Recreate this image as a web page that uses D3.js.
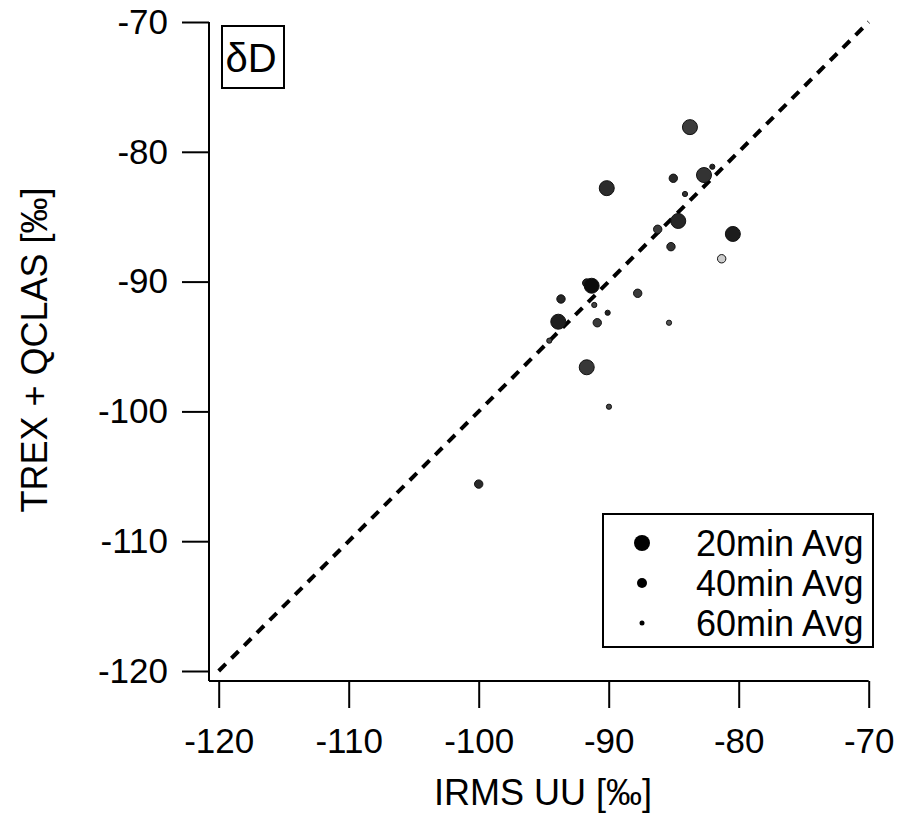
<!DOCTYPE html>
<html>
<head>
<meta charset="utf-8">
<script src="https://d3js.org/d3.v7.min.js"></script>
<style>
  body { margin: 0; background: #fff; }
  text { font-family: "Liberation Sans", Arial, sans-serif; fill: #000; }
</style>
</head>
<body>
<div id="chart"></div>
<script>
var width = 898, height = 815

// 20 minute averages
var avg20X = [-83.75, -90.15, -82.67, -84.65, -80.45, -91.31, -93.88, -91.69]
var avg20Y = [-78.1, -82.8, -81.79, -85.33, -86.33, -90.32, -93.09, -96.6]
var avg20Shade = ["#3c3c3c", "#2c2c2c", "#333333", "#262626", "#1c1c1c", "#0c0c0c", "#1e1e1e", "#383838"]

// 40 minute averages
var avg40X = [-85.03, -86.23, -85.21, -81.31, -87.77, -93.67, -90.88, -91.69, -100.0]
var avg40Y = [-82.04, -85.97, -87.31, -88.24, -90.9, -91.34, -93.17, -90.11, -105.6]
var avg40Shade = ["#2a2a2a", "#3a3a3a", "#333333", "#cccccc", "#3a3a3a", "#262626", "#3a3a3a", "#202020", "#2a2a2a"]

// 60 minute averages
var avg60X = [-82.03, -84.13, -91.11, -90.08, -94.57, -85.36, -89.98]
var avg60Y = [-81.15, -83.25, -91.8, -92.4, -94.55, -93.17, -99.64]
var avg60Shade = ["#222222", "#333333", "#444444", "#222222", "#444444", "#555555", "#444444"]

var xTicks = [-120, -110, -100, -90, -80, -70]
var yTicks = [-120, -110, -100, -90, -80, -70]
var legendLabels = ["20min Avg", "40min Avg", "60min Avg"]
var sizes = [7.5, 4.2, 2.6]
var legendSizes = [8, 5, 2.5]

var xScale = d3.scaleLinear()
    .domain([-120, -70])
    .range([218.7, 868.7])
var yScale = d3.scaleLinear()
    .domain([-120, -70])
    .range([671, 22])

var svg = d3.select("#chart")
    .append("svg")
    .attr("width", width)
    .attr("height", height)
    .attr("display", "block")

// plain hyphen minus, like the original
var fmt = function(d) { return String(d) }

// axes
var xAxis = d3.axisBottom(xScale)
    .tickValues(xTicks)
    .tickFormat(fmt)
    .tickSize(27)
    .tickSizeOuter(0)
var yAxis = d3.axisLeft(yScale)
    .tickValues(yTicks)
    .tickFormat(fmt)
    .tickSize(27)
    .tickPadding(14)
    .tickSizeOuter(0)

var gx = svg.append("g")
    .attr("transform", "translate(0,681)")
    .call(xAxis)
gx.select(".domain").attr("d", "M" + 209 + ",0H" + 868.7)
gx.selectAll(".tick text")
    .attr("y", 72)
    .attr("dy", 0)

var gy = svg.append("g")
    .attr("transform", "translate(209,0)")
    .call(yAxis)
gy.select(".domain").attr("d", "M0," + 22 + "V" + 681)

svg.selectAll(".domain, .tick line")
    .attr("stroke", "#000")
    .attr("stroke-width", 2)
svg.selectAll(".tick text")
    .style("font-size", "35px")
    .style("font-family", "Liberation Sans, Arial, sans-serif")

svg.append("text")
    .attr("x", 543)
    .attr("y", 805)
    .attr("text-anchor", "middle")
    .style("font-size", "36px")
    .text("IRMS UU [‰]")

svg.append("text")
    .attr("transform", "translate(47,350) rotate(-90)")
    .attr("text-anchor", "middle")
    .style("font-size", "36px")
    .text("TREX + QCLAS [‰]")

// 1:1 line
svg.append("line")
    .attr("x1", xScale(-120))
    .attr("y1", yScale(-120))
    .attr("x2", xScale(-70))
    .attr("y2", yScale(-70))
    .attr("stroke", "#000")
    .attr("stroke-width", 4)
    .attr("stroke-dasharray", "10,8")

function drawSeries(xs, ys, shades, r)
{
    svg.append("g")
        .selectAll("circle")
        .data(xs)
        .enter()
        .append("circle")
        .attr("cx", function(d) { return xScale(d) })
        .attr("cy", function(d, i) { return yScale(ys[i]) })
        .attr("r", r)
        .attr("fill", function(d, i) { return shades[i] })
        .attr("stroke", "#111")
        .attr("stroke-width", 1)
}

drawSeries(avg40X, avg40Y, avg40Shade, sizes[1])
drawSeries(avg20X, avg20Y, avg20Shade, sizes[0])
drawSeries(avg60X, avg60Y, avg60Shade, sizes[2])

// panel label
svg.append("rect")
    .attr("x", 222)
    .attr("y", 26)
    .attr("width", 62)
    .attr("height", 62)
    .attr("fill", "#fff")
    .attr("stroke", "#000")
    .attr("stroke-width", 2)
svg.append("text")
    .attr("x", 251)
    .attr("y", 72)
    .attr("text-anchor", "middle")
    .style("font-size", "40px")
    .text("δD")

// legend
svg.append("rect")
    .attr("x", 603)
    .attr("y", 514)
    .attr("width", 270)
    .attr("height", 133)
    .attr("fill", "#fff")
    .attr("stroke", "#000")
    .attr("stroke-width", 2)
var leg = svg.append("g")
    .selectAll("g")
    .data(legendLabels)
    .enter()
    .append("g")
    .attr("transform", function(d, i) { return "translate(0," + (543 + i * 40) + ")" })
leg.append("circle")
    .attr("cx", 642)
    .attr("cy", 0)
    .attr("r", function(d, i) { return legendSizes[i] })
    .attr("fill", "#000")
leg.append("text")
    .attr("x", 696)
    .attr("y", 0)
    .attr("dy", "0.36em")
    .style("font-size", "36px")
    .text(function(d) { return d })
</script>
</body>
</html>
